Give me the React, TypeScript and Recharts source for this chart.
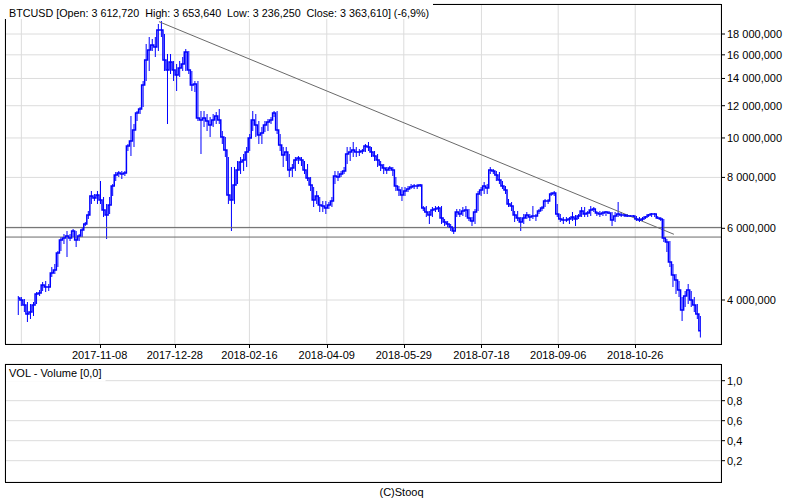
import React from 'react';
import {
  ComposedChart,
  Line,
  Bar,
  XAxis,
  YAxis,
  CartesianGrid,
  ReferenceLine,
} from 'recharts';

const FONT = "'Liberation Sans', Arial, sans-serif";

// BTCUSD, one bar every 2 days (Sep 2017 - Dec 2018), USD
const closes = [
  4046, 4000, 3889, 3696, 3738, 3889, 4138, 4162, 4354, 4305,
  4305, 4660, 4739, 5218, 5616, 5680, 5744, 5680, 5909, 5616,
  5744, 5942, 6147, 6468, 7202, 7121, 7243, 7041, 6654, 6468,
  6844, 7621, 8110, 8202, 8156, 8202, 9555, 9829, 10459, 11515,
  11778, 13490, 15539, 16443, 16915, 16725, 18412, 18412, 15539, 14685,
  15364, 14685, 14275, 14852, 15191, 16258, 14685, 13490, 13567, 11194,
  11068, 11194, 11006, 10759, 11068, 11321, 11068, 10054, 9341, 7243,
  7041, 7664, 8342, 8728, 8828, 9236, 9997, 11068, 10759, 10168,
  10283, 10759, 10944, 11068, 11515, 10459, 9609, 9081, 9236, 8342,
  8437, 8828, 8928, 8828, 8342, 7973, 7664, 7041, 7202, 6844,
  6806, 6729, 6844, 7001, 8064, 8019, 8156, 8295, 9132, 9236,
  9341, 9236, 9236, 9288, 9555, 9501, 9236, 9029, 8828, 8581,
  8437, 8342, 8437, 8342, 7621, 7450, 7243, 7408, 7492, 7578,
  7621, 7621, 7664, 6729, 6579, 6468, 6654, 6691, 6729, 6359,
  6217, 6147, 6044, 5909, 6579, 6505, 6616, 6654, 6359, 6252,
  6579, 7284, 7450, 7621, 7535, 8342, 8295, 8110, 7884, 7621,
  7450, 6883, 6806, 6468, 6359, 6217, 6359, 6468, 6395, 6432,
  6432, 6616, 6729, 7001, 7001, 7284, 7325, 6505, 6323, 6288,
  6288, 6323, 6395, 6323, 6432, 6616, 6505, 6542, 6654, 6691,
  6542, 6505, 6542, 6579, 6542, 6288, 6432, 6505, 6468, 6468,
  6432, 6432, 6432, 6323, 6288, 6323, 6395, 6468, 6505, 6505,
  6359, 6323, 5680, 5553, 4959, 4607, 4479, 4233, 3780, 4092,
  4233, 4000, 3889, 3696, 3364,
];

const highs = [
  4092, 4069, 4023, 3955, 3911, 3955, 4185, 4233, 4429, 4454,
  4379, 4820, 4903, 5277, 5712, 5809, 5909, 5809, 5976, 5909,
  5809, 6044, 6217, 6616, 7408, 7284, 7408, 7839, 7161, 6883,
  7161, 7707, 8248, 8295, 8295, 8295, 9663, 11321, 10821, 11646,
  11912, 13799, 17011, 17698, 17499, 17698, 19047, 19373, 18000, 16075,
  16075, 15451, 15191, 15451, 15805, 16537, 16350, 14602, 13799, 13799,
  11646, 11646, 11450, 11257, 11450, 11580, 11778, 10400, 10054, 8978,
  8485, 8485, 8778, 8978, 9132, 9501, 10225, 11646, 11450, 11006,
  10638, 11006, 11131, 11257, 11646, 11646, 10225, 9501, 9501, 9132,
  8630, 8978, 9029, 8978, 8778, 8630, 8019, 7578, 7408, 7161,
  7001, 7001, 6962, 7161, 8295, 8295, 8295, 8485, 9501, 9501,
  9773, 9501, 9394, 9394, 9663, 9773, 9501, 9288, 9132, 8778,
  8630, 8485, 8533, 8485, 8019, 7621, 7578, 7578, 7621, 7707,
  7707, 7707, 7707, 6806, 6806, 6616, 6767, 6806, 6806, 6806,
  6323, 6252, 6147, 6044, 6691, 6691, 6767, 6806, 6691, 6395,
  6691, 7408, 7578, 7795, 7707, 8485, 8389, 8295, 8248, 7839,
  7621, 7081, 6962, 6616, 6616, 6395, 6505, 6579, 6505, 6806,
  6505, 6691, 6806, 7081, 7081, 7366, 7408, 6883, 6505, 6395,
  6395, 6395, 6579, 6468, 6505, 6767, 6767, 6616, 6806, 6767,
  6616, 6616, 6616, 6616, 6616, 6579, 6579, 6962, 6579, 6505,
  6505, 6468, 6468, 6432, 6395, 6395, 6432, 6505, 6542, 6542,
  6432, 6395, 6323, 5648, 5584, 4903, 4634, 4454, 4069, 4209,
  4379, 4209, 4069, 3911, 3654,
];

const lows = [
  3675, 3867, 3738, 3533, 3593, 3655, 3911, 4092, 4209, 4185,
  4209, 4556, 4634, 4820, 5277, 5490, 5101, 5584, 5712, 5398,
  5584, 5712, 6078, 6323, 6883, 7001, 6883, 6883, 6395, 5648,
  6505, 7202, 7839, 8019, 7928, 8064, 9288, 9029, 9501, 11006,
  11450, 11912, 13799, 14602, 16350, 15805, 16350, 17698, 14602, 10821,
  14356, 13799, 13040, 14115, 14602, 14602, 14356, 13040, 12966, 11006,
  9132, 10638, 10400, 10054, 10638, 10821, 10821, 9663, 8978, 6883,
  5909, 6883, 7707, 8156, 8295, 8485, 9288, 10400, 10054, 9663,
  9663, 10342, 10400, 10821, 11257, 10225, 9288, 8485, 8778, 8019,
  8019, 8295, 8630, 8533, 8156, 7839, 7408, 6767, 6883, 6579,
  6579, 6505, 6691, 6767, 7707, 7839, 8019, 8156, 8630, 8778,
  8978, 8978, 9029, 9132, 9236, 9288, 8978, 8778, 8485, 8295,
  8156, 8156, 8295, 8064, 7408, 7202, 7001, 7202, 7366, 7492,
  7492, 7492, 7578, 6616, 6395, 6147, 6395, 6579, 6579, 6147,
  6078, 6044, 5909, 5809, 6395, 6395, 6432, 6395, 6252, 6078,
  6147, 6616, 7202, 7284, 7284, 8156, 8156, 7839, 7707, 7492,
  7284, 6767, 6616, 6217, 6252, 5909, 6147, 6323, 6252, 6323,
  6252, 6505, 6616, 6767, 6883, 7202, 7202, 6395, 6217, 6147,
  6217, 6147, 6252, 6078, 6323, 6395, 6395, 6395, 6432, 6579,
  6432, 6395, 6432, 6432, 6505, 6078, 6217, 6395, 6395, 6395,
  6395, 6395, 6395, 6252, 6217, 6252, 6323, 6395, 6395, 6395,
  6323, 6252, 5553, 5247, 4820, 4305, 4138, 4069, 3553, 3845,
  3911, 3845, 3738, 3593, 3236,
];

// x axis: bar index; label positions and texts
const tickIndex = [1, 26.7, 51.4, 75.9, 101.3, 126.6, 152.1, 177.3, 202.6];
const tickDates = ['', '2017-11-08', '2017-12-28', '2018-02-16', '2018-04-09', '2018-05-29', '2018-07-18', '2018-09-06', '2018-10-26'];
const xDomain = [-4.37, 230.77];

const priceTicks = [4000, 6000, 8000, 10000, 12000, 14000, 16000, 18000];
const priceDomain = [3119, 21329];
const volTicks = [0.2, 0.4, 0.6, 0.8, 1.0];
const volDomain = [-0.013, 1.167];

const supportLevels = [6030, 5710];
const trendLine = [
  { x: 46.2, y: 19300 },
  { x: 215.3, y: 5800 },
];

const title = 'BTCUSD [Open: 3 612,720  High: 3 653,640  Low: 3 236,250  Close: 3 363,610] (-6,9%)';

const rows = closes.map((c, i) => ({ i, close: c, high: highs[i], low: lows[i] }));

const fmtPrice = (v: number) =>
  Math.round(v).toString().replace(/\B(?=(\d{3})+(?!\d))/g, ' ') + ',000';
const fmtVol = (v: number) => v.toFixed(1).replace('.', ',');

// x labels with their own small tick marks; the first grid line has none
const renderDateTick = (props: any) => {
  const { x, y, payload } = props;
  const label = tickDates[tickIndex.indexOf(payload.value)];
  if (!label) return <g />;
  const px = Math.round(x) + 0.5;
  return (
    <g>
      <line x1={px} y1={y} x2={px} y2={y + 4} stroke="#000" />
      <text x={x} y={y + 15} textAnchor="middle" fontSize={11} fontFamily={FONT} fill="#000">
        {label}
      </text>
    </g>
  );
};

const axisTick = { fill: '#000', fontSize: 11, fontFamily: FONT };

export default function App() {
  return (
    <div style={{ position: 'absolute', left: 0, top: 0, width: 800, height: 500, background: '#fff' }}>
      <div style={{ position: 'absolute', left: 0, top: 0 }}>
        <ComposedChart width={800} height={500} data={rows} margin={{ top: 4, right: 0, bottom: 140, left: 5 }}>
          <CartesianGrid stroke="#dcdcdc" />
          <XAxis
            dataKey="i"
            type="number"
            domain={xDomain}
            allowDataOverflow
            ticks={tickIndex}
            interval={0}
            height={16}
            tickSize={0}
            tickMargin={0}
            axisLine={false}
            tickLine={false}
            tick={renderDateTick}
          />
          <YAxis
            orientation="right"
            width={79}
            scale="log"
            domain={priceDomain}
            allowDataOverflow
            ticks={priceTicks}
            interval={0}
            tickFormatter={fmtPrice}
            axisLine={false}
            tickLine={{ stroke: '#000' }}
            tickSize={4}
            tickMargin={2}
            tick={axisTick}
          />
          {supportLevels.map((v) => (
            <ReferenceLine key={v} y={v} stroke="#6a6a6a" strokeWidth={1} />
          ))}
          <ReferenceLine segment={trendLine} stroke="#6a6a6a" strokeWidth={1} />
          <Bar
            dataKey={(r: any) => [r.low, r.high]}
            fill="#0000ff"
            barSize={1}
            isAnimationActive={false}
          />
          <Line
            dataKey="close"
            type="step"
            stroke="#0000ff"
            strokeWidth={1.5}
            dot={false}
            isAnimationActive={false}
          />
        </ComposedChart>
      </div>
      <div style={{ position: 'absolute', left: 0, top: 0 }}>
        <ComposedChart width={800} height={500} data={rows} margin={{ top: 364, right: 0, bottom: 18, left: 5 }}>
          <CartesianGrid stroke="#dcdcdc" />
          <XAxis
            dataKey="i"
            type="number"
            domain={xDomain}
            allowDataOverflow
            ticks={tickIndex}
            interval={0}
            height={0}
            axisLine={false}
            tickLine={false}
            tick={false}
          />
          <YAxis
            orientation="right"
            width={79}
            domain={volDomain}
            allowDataOverflow
            ticks={volTicks}
            interval={0}
            tickFormatter={fmtVol}
            axisLine={false}
            tickLine={{ stroke: '#000' }}
            tickSize={4}
            tickMargin={2}
            tick={axisTick}
          />
        </ComposedChart>
      </div>
      <svg width={800} height={500} style={{ position: 'absolute', left: 0, top: 0, pointerEvents: 'none' }}>
        <rect x={5.5} y={4.5} width={716} height={340} fill="none" stroke="#000" />
        <rect x={5.5} y={364.5} width={716} height={118} fill="none" stroke="#000" />
        <rect x={4} y={0} width={429} height={19} fill="#fff" />
        <text x={9} y={17} fontSize={10.75} fontFamily={FONT} fill="#000" style={{ whiteSpace: 'pre' }}>
          {title}
        </text>
        <rect x={6} y={365} width={99.5} height={16.5} fill="#fff" />
        <text x={9} y={376.5} fontSize={11} fontFamily={FONT} fill="#000">
          VOL - Volume [0,0]
        </text>
        <text x={401.5} y={495.5} textAnchor="middle" fontSize={11} fontFamily={FONT} fill="#000">
          (C)Stooq
        </text>
      </svg>
    </div>
  );
}
